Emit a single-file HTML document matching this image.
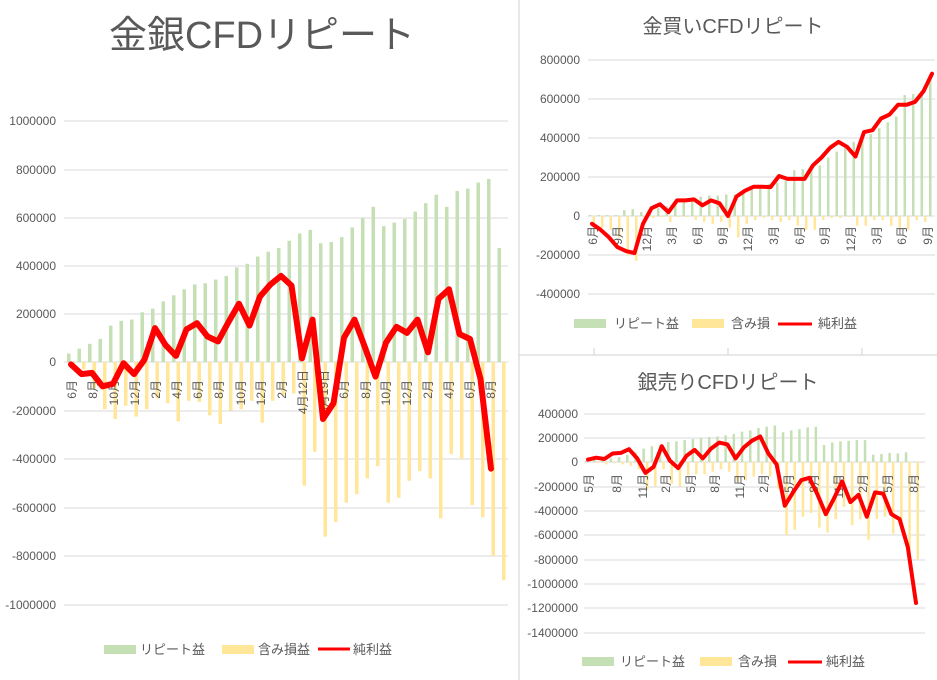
<!DOCTYPE html>
<html><head><meta charset="utf-8"><style>
body{margin:0;background:#fff;width:937px;height:680px;overflow:hidden}
svg{display:block;font-family:"Liberation Sans","Noto Sans CJK JP",sans-serif}
</style></head><body>
<svg id="s" width="937" height="680" xmlns="http://www.w3.org/2000/svg">
<rect width="937" height="680" fill="#fff"/>
<line x1="519" y1="0" x2="519" y2="680" stroke="#d0d0d0"/>
<line x1="519" y1="355" x2="937" y2="355" stroke="#d0d0d0"/>
<g id="grid" stroke="#d9d9d9" stroke-width="1"></g>
<g id="bars"></g>
<g id="lines"></g>
<text x="262" y="48" font-size="38" fill="#595959" text-anchor="middle">金銀CFDリピート</text>
<g font-size="12" fill="#595959" text-anchor="end">
<text x="56" y="125">1000000</text><text x="56" y="174">800000</text><text x="56" y="222">600000</text><text x="56" y="270">400000</text><text x="56" y="318">200000</text><text x="56" y="366">0</text><text x="56" y="415">-200000</text><text x="56" y="463">-400000</text><text x="56" y="512">-600000</text><text x="56" y="560">-800000</text><text x="56" y="609">-1000000</text>
</g>
<g font-size="13" fill="#595959">
<rect x="104" y="645" width="32" height="9" fill="#c5e0b4"/><text x="140" y="654">リピート益</text>
<rect x="222" y="645" width="32" height="9" fill="#ffe699"/><text x="258" y="654">含み損益</text>
<line x1="318" y1="649" x2="350" y2="649" stroke="#f00" stroke-width="3"/><text x="353" y="654">純利益</text>
</g>
<text x="733" y="33" font-size="20" fill="#595959" text-anchor="middle">金買いCFDリピート</text>
<g font-size="12" fill="#595959" text-anchor="end">
<text x="580" y="64">800000</text><text x="580" y="103">600000</text><text x="580" y="142">400000</text><text x="580" y="181">200000</text><text x="580" y="220">0</text><text x="580" y="259">-200000</text><text x="580" y="298">-400000</text>
</g>
<g font-size="13" fill="#595959">
<rect x="574" y="319" width="32" height="9" fill="#c5e0b4"/><text x="614" y="328">リピート益</text>
<rect x="692" y="319" width="32" height="9" fill="#ffe699"/><text x="731" y="328">含み損</text>
<line x1="778" y1="324" x2="812" y2="324" stroke="#f00" stroke-width="3"/><text x="818" y="328">純利益</text>
</g>
<line x1="594" y1="348" x2="594" y2="355" stroke="#d0d0d0"/><line x1="728" y1="348" x2="728" y2="355" stroke="#d0d0d0"/><line x1="862" y1="348" x2="862" y2="355" stroke="#d0d0d0"/>
<text x="728" y="389" font-size="20" fill="#595959" text-anchor="middle">銀売りCFDリピート</text>
<g font-size="12" fill="#595959" text-anchor="end">
<text x="578" y="418">400000</text><text x="578" y="442">200000</text><text x="578" y="466">0</text><text x="578" y="491">-200000</text><text x="578" y="515">-400000</text><text x="578" y="539">-600000</text><text x="578" y="564">-800000</text><text x="578" y="588">-1000000</text><text x="578" y="612">-1200000</text><text x="578" y="637">-1400000</text>
</g>
<g font-size="13" fill="#595959">
<rect x="582" y="657" width="32" height="9" fill="#c5e0b4"/><text x="620" y="666">リピート益</text>
<rect x="700" y="657" width="32" height="9" fill="#ffe699"/><text x="738" y="666">含み損</text>
<line x1="788" y1="662" x2="822" y2="662" stroke="#f00" stroke-width="3"/><text x="826" y="666">純利益</text>
</g>
<g font-size="12" fill="#595959">
<text transform="translate(76,380) rotate(-90)" text-anchor="end">6月</text>
<text transform="translate(97,380) rotate(-90)" text-anchor="end">8月</text>
<text transform="translate(118,380) rotate(-90)" text-anchor="end">10月</text>
<text transform="translate(139,380) rotate(-90)" text-anchor="end">12月</text>
<text transform="translate(160,380) rotate(-90)" text-anchor="end">2月</text>
<text transform="translate(181,380) rotate(-90)" text-anchor="end">4月</text>
<text transform="translate(202,380) rotate(-90)" text-anchor="end">6月</text>
<text transform="translate(223,380) rotate(-90)" text-anchor="end">8月</text>
<text transform="translate(245,380) rotate(-90)" text-anchor="end">10月</text>
<text transform="translate(265,380) rotate(-90)" text-anchor="end">12月</text>
<text transform="translate(286,380) rotate(-90)" text-anchor="end">2月</text>
<text transform="translate(307,370) rotate(-90)" text-anchor="end">4月12日</text>
<text transform="translate(328,370) rotate(-90)" text-anchor="end">5月19日</text>
<text transform="translate(348,380) rotate(-90)" text-anchor="end">6月</text>
<text transform="translate(370,380) rotate(-90)" text-anchor="end">8月</text>
<text transform="translate(390,380) rotate(-90)" text-anchor="end">10月</text>
<text transform="translate(411,380) rotate(-90)" text-anchor="end">12月</text>
<text transform="translate(432,380) rotate(-90)" text-anchor="end">2月</text>
<text transform="translate(453,380) rotate(-90)" text-anchor="end">4月</text>
<text transform="translate(474,380) rotate(-90)" text-anchor="end">6月</text>
<text transform="translate(495,380) rotate(-90)" text-anchor="end">8月</text>
</g>
<g font-size="12" fill="#595959">
<text transform="translate(597,226) rotate(-90)" text-anchor="end">6月</text>
<text transform="translate(622,226) rotate(-90)" text-anchor="end">9月</text>
<text transform="translate(651,226) rotate(-90)" text-anchor="end">12月</text>
<text transform="translate(676,226) rotate(-90)" text-anchor="end">3月</text>
<text transform="translate(702,226) rotate(-90)" text-anchor="end">6月</text>
<text transform="translate(727,226) rotate(-90)" text-anchor="end">9月</text>
<text transform="translate(752,226) rotate(-90)" text-anchor="end">12月</text>
<text transform="translate(778,226) rotate(-90)" text-anchor="end">3月</text>
<text transform="translate(804,226) rotate(-90)" text-anchor="end">6月</text>
<text transform="translate(829,226) rotate(-90)" text-anchor="end">9月</text>
<text transform="translate(855,226) rotate(-90)" text-anchor="end">12月</text>
<text transform="translate(881,226) rotate(-90)" text-anchor="end">3月</text>
<text transform="translate(906,226) rotate(-90)" text-anchor="end">6月</text>
<text transform="translate(932,226) rotate(-90)" text-anchor="end">9月</text>
</g>
<g font-size="12" fill="#595959">
<text transform="translate(593,474) rotate(-90)" text-anchor="end">5月</text>
<text transform="translate(621,474) rotate(-90)" text-anchor="end">8月</text>
<text transform="translate(647,474) rotate(-90)" text-anchor="end">11月</text>
<text transform="translate(670,474) rotate(-90)" text-anchor="end">2月</text>
<text transform="translate(695,474) rotate(-90)" text-anchor="end">5月</text>
<text transform="translate(719,474) rotate(-90)" text-anchor="end">8月</text>
<text transform="translate(744,474) rotate(-90)" text-anchor="end">11月</text>
<text transform="translate(768,474) rotate(-90)" text-anchor="end">2月</text>
<text transform="translate(793,474) rotate(-90)" text-anchor="end">5月</text>
<text transform="translate(818,474) rotate(-90)" text-anchor="end">8月</text>
<text transform="translate(843,474) rotate(-90)" text-anchor="end">11月</text>
<text transform="translate(867,474) rotate(-90)" text-anchor="end">2月</text>
<text transform="translate(892,474) rotate(-90)" text-anchor="end">5月</text>
<text transform="translate(918,474) rotate(-90)" text-anchor="end">8月</text>
</g>
<g id="redlines"></g>
</svg>
<script>
var NS="http://www.w3.org/2000/svg";
function el(p,t,a){var e=document.createElementNS(NS,t);for(var k in a)e.setAttribute(k,a[k]);document.getElementById(p).appendChild(e);return e;}
function chart(c){
  c.grid.forEach(function(y){el("grid","line",{x1:c.x0,x2:c.x1,y1:y,y2:y});});
  var s=c.s;
  c.g.forEach(function(v,i){var x=c.cx+c.dx*i;var h=v*s;el("bars","rect",{x:x-c.bw-0.5,y:c.zy-h,width:c.bw,height:h,fill:"#c5e0b4"});});
  c.yl.forEach(function(v,i){var x=c.cx+c.dx*i;var h=-v*s;el("bars","rect",{x:x+0.5,y:c.zy,width:c.bw,height:h,fill:"#ffe699"});});
  var pts=c.r.map(function(v,i){return (c.cx+c.dx*i).toFixed(1)+","+(c.zy-v*s).toFixed(1);}).join(" ");
  el("redlines","polyline",{points:pts,fill:"none",stroke:"#f00","stroke-width":c.lw,"stroke-linejoin":"round","stroke-linecap":"round"});
}
chart({x0:64,x1:508,grid:[121,170,218,266,314,411,459,508,556,605,362],zy:362,s:48.5/200,cx:71,dx:10.5,bw:3.5,lw:6,
g:[35,55,75,95,150,170,175,205,220,250,275,300,320,325,340,355,390,405,435,455,470,500,530,545,490,495,515,555,595,640,560,575,590,620,655,690,640,705,715,740,755,470],
yl:[-10,-30,-110,-195,-235,-180,-225,-195,-150,-170,-245,-160,-165,-220,-255,-200,-195,-160,-250,-160,-135,-130,-510,-370,-720,-660,-580,-545,-480,-430,-580,-560,-490,-450,-480,-645,-380,-400,-590,-640,-800,-900],
r:[-10,-50,-45,-100,-90,-5,-50,10,140,70,25,135,160,105,85,165,240,150,270,320,355,315,15,175,-235,-170,100,175,60,-60,80,145,120,175,40,260,300,115,95,-70,-440]});
chart({x0:588,x1:935,grid:[60,99,138,177,255,294,216],zy:216,s:39/200,cx:592,dx:8.5,bw:2.5,lw:4,
g:[5,5,5,5,30,35,20,25,40,50,60,70,85,100,105,105,110,110,130,135,150,165,170,180,235,240,250,260,300,330,360,380,400,420,450,480,510,620,625,640,700],
yl:[-40,-60,-70,-110,-200,-230,-10,-10,-5,-30,-5,-5,-20,-30,-40,-30,-60,-110,-40,-20,-10,-20,-30,-20,-50,-70,-70,-20,-10,-10,-5,-50,-50,-20,-20,-50,-60,-70,-20,-30],
r:[-40,-70,-110,-160,-180,-190,-40,40,60,20,80,80,85,55,80,65,0,100,130,150,150,148,205,190,190,190,260,300,350,380,355,305,430,440,500,520,570,570,585,640,730]});
chart({x0:584,x1:925,grid:[414,438,487,511,535,560,584,608,633,462],zy:462,s:24.3/200,cx:588,dx:8.2,bw:2.5,lw:4,
g:[10,15,20,30,40,60,80,110,130,140,165,170,180,190,200,205,210,220,230,250,260,280,290,300,245,260,270,285,290,140,160,170,175,180,180,60,65,75,70,80,-280],
yl:[0,-10,-20,-10,-20,-30,-60,-230,-200,-60,-180,-200,-110,-100,-100,-80,-60,-80,-160,-150,-120,-100,-120,-220,-600,-560,-450,-420,-540,-580,-470,-370,-520,-470,-640,-470,-450,-590,-560,-780,-800],
r:[20,35,25,70,75,105,30,-90,-40,130,10,-50,50,100,30,110,160,145,30,120,175,210,70,-20,-360,-250,-150,-130,-270,-430,-300,-160,-330,-270,-450,-250,-260,-430,-470,-700,-1160]});
</script>
</body></html>
